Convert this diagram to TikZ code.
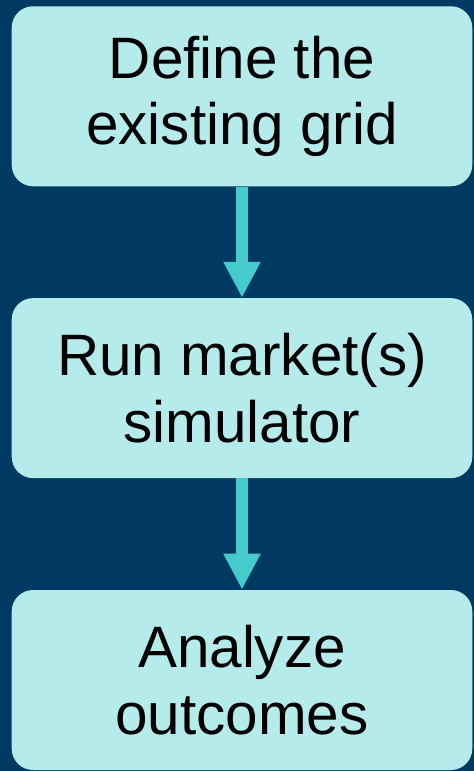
\documentclass[tikz,border=0pt]{standalone}
\usepackage{fontspec}
\setmainfont{Liberation Sans}
\usetikzlibrary{arrows.meta,positioning}

\definecolor{navybg}{HTML}{003A63}
\definecolor{stepfill}{HTML}{B5EBEB}
\definecolor{arrowteal}{HTML}{45CBCB}

\begin{document}
\begin{tikzpicture}[x=1pt,y=1pt,
  stepbox/.style={fill=stepfill, rounded corners=16pt, minimum width=345.4pt,
    minimum height=135pt, align=center, inner sep=0pt,
    font=\fontsize{43.8}{50}\selectfont},
  flow/.style={draw=arrowteal, line width=9.5pt,
    -{Triangle[width=26pt,length=27pt]}},
  node distance=83.5pt]
  \fill[navybg] (0,0) rectangle (355.5,-578.25);
  \useasboundingbox (0,0) rectangle (355.5,-578.25);
  \node[stepbox, anchor=north west] (define) at (8.6,-4.5) {Define the\\existing grid};
  \node[stepbox, below=of define] (run) {Run market(s)\\simulator};
  \node[stepbox, below=of run] (analyze) {Analyze\\outcomes};
  \draw[flow] (define) -- (run);
  \draw[flow] (run) -- (analyze);
\end{tikzpicture}
\end{document}
